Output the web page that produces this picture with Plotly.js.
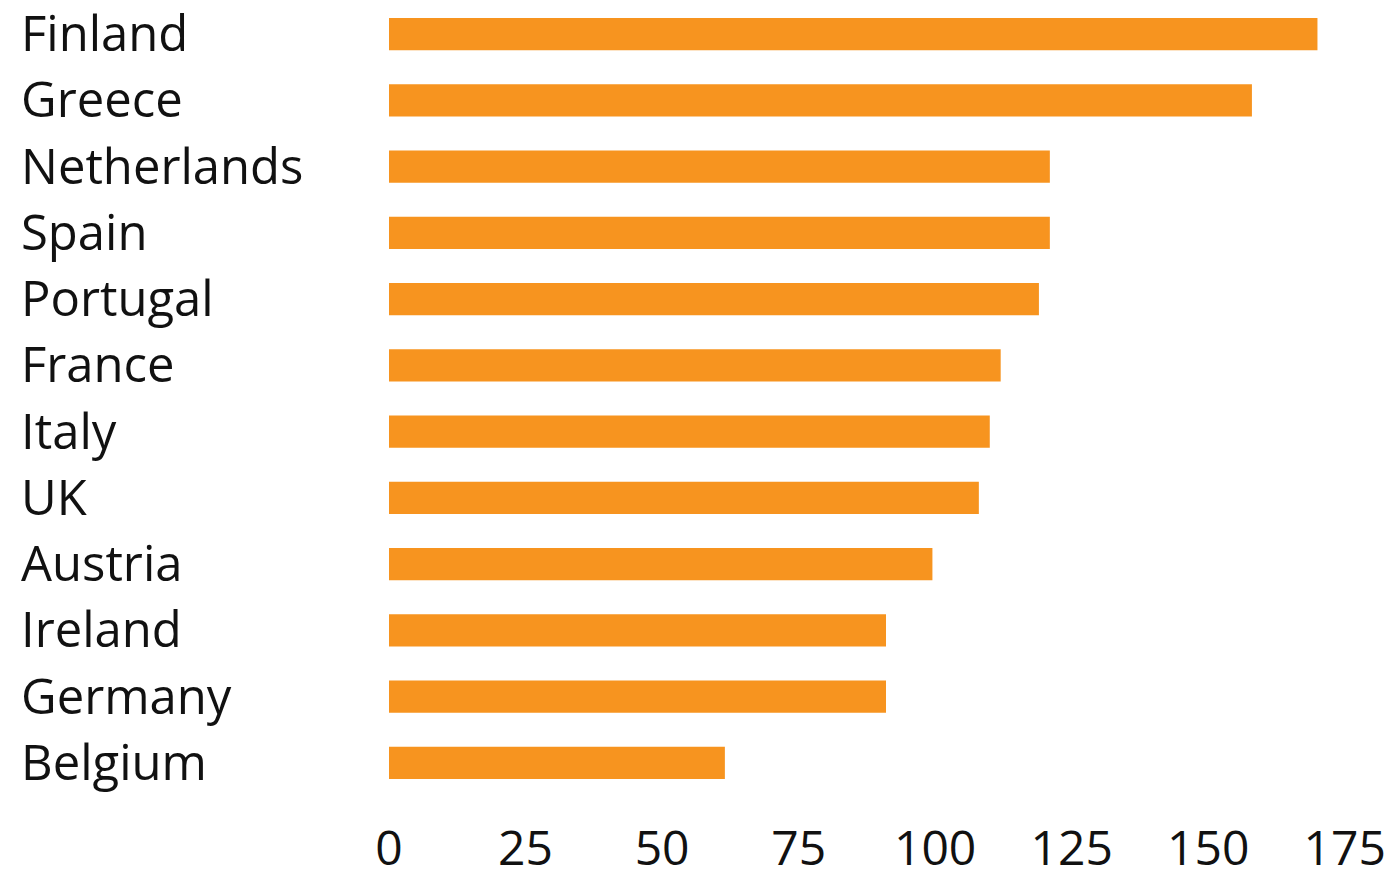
<!DOCTYPE html>
<html>
<head>
<meta charset="utf-8">
<script src="https://cdn.plot.ly/plotly-3.0.1.min.js"></script>
<style>html,body{margin:0;padding:0;background:#fff;}#chart{width:1395px;height:882px;}</style>
</head>
<body>
<div id="chart"></div>
<script>
const countries = ["Finland","Greece","Netherlands","Spain","Portugal","France","Italy","UK","Austria","Ireland","Germany","Belgium"];
const values = [170,158,121,121,119,112,110,108,99.5,91,91,61.5];
const xTicks = [0,25,50,75,100,125,150,175];

const W = 1395, L = 389, R = 12;
const xMax = 182;
const plotW = W - L - R;
const labelX = (19 - L) / plotW;

const trace = {
  type: 'bar',
  orientation: 'h',
  x: values,
  y: countries,
  width: 0.49,
  marker: {color: '#F7941F', line: {width: 0}},
  hoverinfo: 'x+y'
};

const annotations = countries.map(c => ({
  xref: 'paper', yref: 'y', x: labelX, y: c,
  xanchor: 'left', yanchor: 'middle', yshift: 2,
  text: c, showarrow: false,
  font: {family: 'Open Sans, sans-serif', size: 49, color: '#111'}
}));

const layout = {
  width: W, height: 882,
  margin: {l: L, r: R, t: 1, b: 86, pad: 0},
  paper_bgcolor: '#fff', plot_bgcolor: '#fff',
  showlegend: false,
  bargap: 0.5,
  xaxis: {
    range: [0, xMax],
    tickvals: xTicks,
    ticktext: xTicks.map(String),
    showgrid: false, zeroline: false, showline: false,
    ticks: '', ticklabelstandoff: 20,
    tickfont: {family: 'Open Sans, sans-serif', size: 48, color: '#111'}
  },
  yaxis: {
    type: 'category',
    categoryorder: 'array', categoryarray: countries,
    range: [countries.length - 0.5, -0.5],
    showticklabels: false, showgrid: false, zeroline: false, showline: false, ticks: ''
  },
  annotations: annotations
};

Plotly.newPlot('chart', [trace], layout, {displayModeBar: false, staticPlot: true});
</script>
</body>
</html>
